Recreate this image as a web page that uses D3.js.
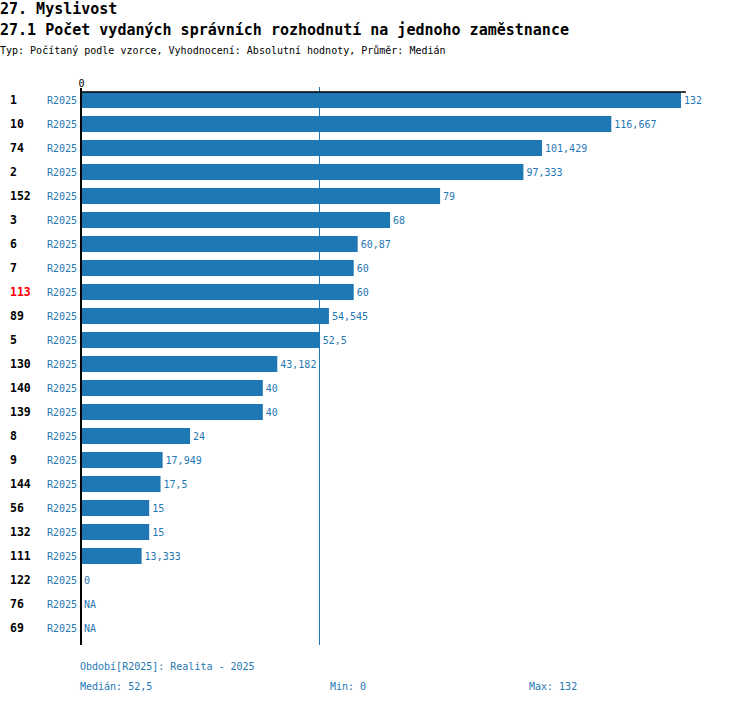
<!DOCTYPE html>
<html>
<head>
<meta charset="utf-8">
<script src="https://cdn.jsdelivr.net/npm/d3@7"></script>
<style>
  body { margin: 0; background: #fff; }
  text { font-family: "DejaVu Sans Mono", monospace; }
</style>
</head>
<body>
<div id="container"></div>
<script>
/* DATA */
const ids = ["1", "10", "74", "2", "152", "3", "6", "7", "113", "89", "5", "130",
  "140", "139", "8", "9", "144", "56", "132", "111", "122", "76", "69"]
const values = [132, 116.667, 101.429, 97.333, 79, 68, 60.87, 60, 60, 54.545, 52.5, 43.182,
  40, 40, 24, 17.949, 17.5, 15, 15, 13.333, 0, null, null]
const period = "R2025"
const highlight = "113"
const median = 52.5, minV = 0, maxV = 132

/* CONSTANTS */
const width = 750, height = 704
const blue = "#1f77b4"

const data = ids.map((id, i) => ({ id, value: values[i] }))

const svg = d3.select("#container")
  .append("svg")
  .attr("width", width)
  .attr("height", height)

// titles
svg.append("text").attr("x", 0).attr("y", 14)
  .attr("font-size", 15).attr("font-weight", "bold").attr("fill", "#000")
  .text("27. Myslivost")
svg.append("text").attr("x", 0).attr("y", 35)
  .attr("font-size", 15).attr("font-weight", "bold").attr("fill", "#000")
  .text("27.1 Počet vydaných správních rozhodnutí na jednoho zaměstnance")
svg.append("text").attr("x", 0).attr("y", 54)
  .attr("font-size", 10).attr("fill", "#000")
  .text("Typ: Počítaný podle vzorce, Vyhodnocení: Absolutní hodnoty, Průměr: Medián")

const xScale = d3.scaleLinear()
  .domain([0, maxV])
  .range([81, 681])

const yScale = d3.scaleBand()
  .domain(ids)
  .range([88, 640])
  .paddingInner(1 / 3)
  .paddingOuter(1 / 6)

// median line
const mx = Math.round(xScale(median)) - 0.5
svg.append("line")
  .attr("x1", mx).attr("x2", mx)
  .attr("y1", 87).attr("y2", 645)
  .attr("stroke", blue).attr("stroke-width", 1)
  .attr("shape-rendering", "crispEdges")

// bars
svg.selectAll("rect.bar")
  .data(data.filter(d => d.value != null))
  .join("rect")
  .attr("class", "bar")
  .attr("x", xScale(0))
  .attr("y", d => yScale(d.id))
  .attr("width", d => xScale(d.value) - xScale(0))
  .attr("height", yScale.bandwidth())
  .attr("fill", blue)

// value labels
svg.selectAll("text.val")
  .data(data)
  .join("text")
  .attr("class", "val")
  .attr("x", d => xScale(d.value || 0) + 3)
  .attr("y", d => yScale(d.id) + yScale.bandwidth() / 2)
  .attr("dy", "0.35em")
  .attr("font-size", 10)
  .attr("fill", blue)
  .text(d => d.value == null ? "NA" : String(d.value).replace(".", ","))

// row ids
svg.selectAll("text.id")
  .data(data)
  .join("text")
  .attr("class", "id")
  .attr("x", 10)
  .attr("y", d => yScale(d.id) + yScale.bandwidth() / 2)
  .attr("dy", "0.35em")
  .attr("font-size", 11.5)
  .attr("font-weight", "bold")
  .attr("fill", d => d.id === highlight ? "#ff0000" : "#000")
  .text(d => d.id)

// period labels
svg.selectAll("text.per")
  .data(data)
  .join("text")
  .attr("class", "per")
  .attr("x", 77)
  .attr("y", d => yScale(d.id) + yScale.bandwidth() / 2)
  .attr("dy", "0.35em")
  .attr("text-anchor", "end")
  .attr("font-size", 10)
  .attr("fill", blue)
  .text(period)

// axes
const xAxis = d3.axisTop(xScale).tickValues([0]).tickSize(0).tickPadding(5)
const gx = svg.append("g")
  .attr("transform", "translate(0,92)")
  .call(xAxis)
gx.select(".domain").remove()
gx.selectAll("text").attr("font-family", "DejaVu Sans Mono, monospace")
  .attr("font-size", 10).attr("fill", "#000")
svg.append("line")
  .attr("x1", 80).attr("x2", xScale(maxV) + 5)
  .attr("y1", 92).attr("y2", 92)
  .attr("stroke", "#000").attr("stroke-width", 1.5)
svg.append("line")
  .attr("x1", 81).attr("x2", 81)
  .attr("y1", 88).attr("y2", 645)
  .attr("stroke", "#000").attr("stroke-width", 2)

// footer
svg.append("text").attr("x", 80).attr("y", 670)
  .attr("font-size", 10).attr("fill", blue)
  .text("Období[" + period + "]: Realita - 2025")
const foot = [
  { x: 80, t: "Medián: " + String(median).replace(".", ",") },
  { x: 330, t: "Min: " + minV },
  { x: 529, t: "Max: " + maxV }
]
svg.selectAll("text.foot")
  .data(foot)
  .join("text")
  .attr("class", "foot")
  .attr("x", d => d.x)
  .attr("y", 690)
  .attr("font-size", 10)
  .attr("fill", blue)
  .text(d => d.t)
</script>
</body>
</html>
